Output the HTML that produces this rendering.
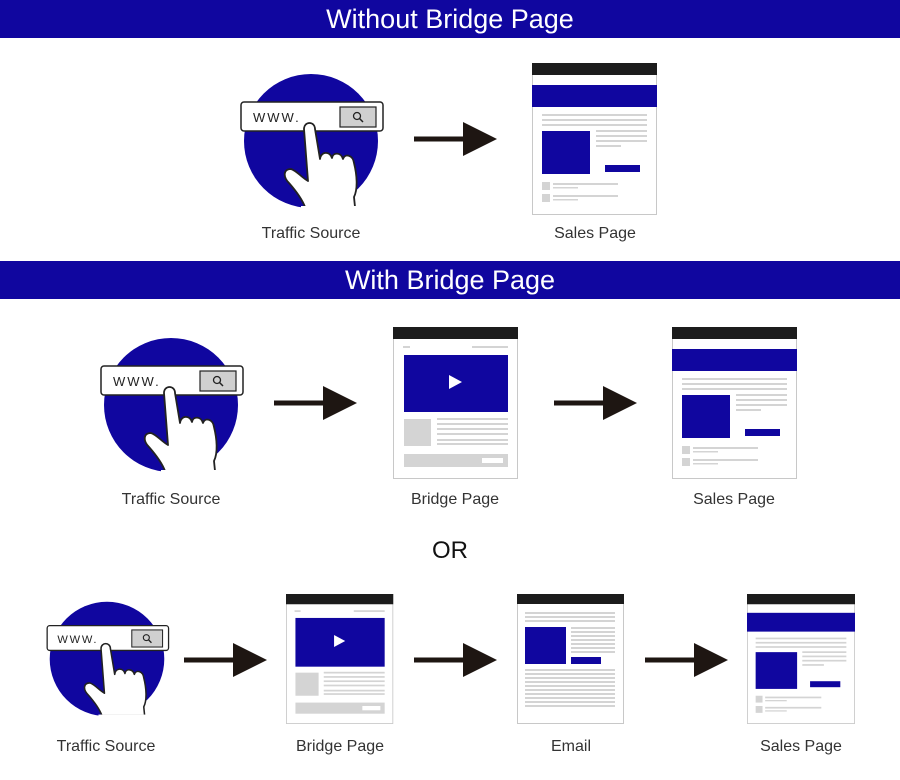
<!DOCTYPE html>
<html><head><meta charset="utf-8"><style>
html,body{margin:0;padding:0;background:#fff;}
svg{display:block;}
text{font-family:"Liberation Sans",sans-serif;}
</style></head><body>
<svg width="900" height="780" viewBox="0 0 900 780" xmlns="http://www.w3.org/2000/svg">
<defs>
<g id="sales">
<rect x="0.5" y="0.5" width="124" height="151" fill="#fff" stroke="#c8c8c8"/>
<rect x="0" y="0" width="125" height="12" fill="#1c1c1c"/>
<rect x="0" y="22" width="125" height="22" fill="#10069f"/>
<g fill="#d4d4d4">
<rect x="10" y="51" width="105" height="2"/><rect x="10" y="56" width="105" height="2"/><rect x="10" y="61" width="105" height="2"/>
<rect x="64" y="67" width="51" height="2"/><rect x="64" y="72" width="51" height="2"/><rect x="64" y="77" width="51" height="2"/><rect x="64" y="82" width="25" height="2"/>
<rect x="10" y="119" width="8" height="8"/><rect x="10" y="131" width="8" height="8"/>
<rect x="21" y="120" width="65" height="2"/><rect x="21" y="124" width="25" height="1.5"/>
<rect x="21" y="132" width="65" height="2"/><rect x="21" y="136" width="25" height="1.5"/>
</g>
<rect x="10" y="68" width="48" height="43" fill="#10069f"/>
<rect x="73" y="102" width="35" height="7" fill="#10069f"/>
</g>
<g id="bridge">
<rect x="0.5" y="0.5" width="124" height="151" fill="#fff" stroke="#c8c8c8"/>
<rect x="0" y="0" width="125" height="12" fill="#1c1c1c"/>
<g fill="#d4d4d4">
<rect x="10" y="19" width="7" height="2"/><rect x="79" y="19" width="36" height="2"/>
<rect x="11" y="92" width="27" height="27"/>
<rect x="44" y="91" width="71" height="2"/><rect x="44" y="96" width="71" height="2"/><rect x="44" y="101" width="71" height="2"/><rect x="44" y="106" width="71" height="2"/><rect x="44" y="112" width="71" height="2"/><rect x="44" y="116" width="71" height="2"/>
<rect x="11" y="127" width="104" height="13"/>
</g>
<rect x="89" y="131" width="21" height="5" fill="#fff"/>
<rect x="11" y="28" width="104" height="57" fill="#10069f"/>
<polygon points="56,48 69,55 56,62" fill="#fff"/>
</g>
<g id="email">
<rect x="0.5" y="0.5" width="106" height="129" fill="#fff" stroke="#c8c8c8"/>
<rect x="0" y="0" width="107" height="10" fill="#1c1c1c"/>
<g fill="#d4d4d4">
<rect x="8" y="18" width="90" height="2"/><rect x="8" y="22" width="90" height="2"/><rect x="8" y="26" width="90" height="2"/>
<rect x="54" y="33" width="44" height="2"/><rect x="54" y="37" width="44" height="2"/><rect x="54" y="41" width="44" height="2"/><rect x="54" y="45" width="44" height="2"/><rect x="54" y="49" width="44" height="2"/><rect x="54" y="53" width="44" height="2"/><rect x="54" y="57" width="44" height="2"/>
<rect x="8" y="75" width="90" height="2"/><rect x="8" y="79" width="90" height="2"/><rect x="8" y="83" width="90" height="2"/><rect x="8" y="87" width="90" height="2"/><rect x="8" y="91" width="90" height="2"/><rect x="8" y="95" width="90" height="2"/><rect x="8" y="99" width="90" height="2"/><rect x="8" y="103" width="90" height="2"/><rect x="8" y="107" width="90" height="2"/><rect x="8" y="111" width="90" height="2"/>
</g>
<rect x="8" y="33" width="41" height="37" fill="#10069f"/>
<rect x="54" y="63" width="30" height="7" fill="#10069f"/>
</g>
<g id="traffic">
<circle cx="0" cy="0" r="67" fill="#10069f"/>
<rect x="-70" y="-39" width="142" height="29" rx="3" fill="#fff" stroke="#222" stroke-width="1.5"/>
<text x="-58" y="-19" font-size="13" fill="#222" letter-spacing="2">WWW.</text>
<rect x="29" y="-34" width="36" height="20" fill="#d0d0d0" stroke="#222" stroke-width="1.2"/>
<circle cx="46" cy="-25" r="3.5" fill="none" stroke="#222" stroke-width="1.3"/>
<line x1="48.5" y1="-22.5" x2="52" y2="-19" stroke="#222" stroke-width="1.5"/>
<path d="M -7,-12 C -7,-20 4,-20 4,-12 L 9,18 C 10,10 19,10 21,17 C 22,11 30,11 32,18 C 34,12 42,14 43,22 C 46,34 47,48 43,56 L 44,66 L -6,66 C -9,58 -15,50 -22,42 C -28,36 -28,28 -20,28 C -14,30 -10,36 -3,40 Z" fill="#fff" stroke="#222" stroke-width="1.8" stroke-linejoin="round"/>
<rect x="-10" y="65" width="56" height="6" fill="#fff"/>
</g>
<g id="arrow">
<rect x="0" y="-2.5" width="50" height="5" fill="#1e1612"/>
<polygon points="49,-17 83,0 49,17" fill="#1e1612"/>
</g>
</defs>

<rect x="0" y="0" width="900" height="38" fill="#10069f"/>
<text x="450" y="28" text-anchor="middle" font-size="27" fill="#fff">Without Bridge Page</text>
<rect x="0" y="261" width="900" height="38" fill="#10069f"/>
<text x="450" y="289" text-anchor="middle" font-size="27" fill="#fff">With Bridge Page</text>

<use href="#traffic" transform="translate(311,141)"/>
<use href="#arrow" transform="translate(414,139)"/>
<use href="#sales" transform="translate(532,63)"/>
<text x="311" y="238" text-anchor="middle" font-size="16" fill="#333">Traffic Source</text>
<text x="595" y="238" text-anchor="middle" font-size="16" fill="#333">Sales Page</text>

<use href="#traffic" transform="translate(171,405)"/>
<use href="#arrow" transform="translate(274,403)"/>
<use href="#bridge" transform="translate(393,327)"/>
<use href="#arrow" transform="translate(554,403)"/>
<use href="#sales" transform="translate(672,327)"/>
<text x="171" y="504" text-anchor="middle" font-size="16" fill="#333">Traffic Source</text>
<text x="455" y="504" text-anchor="middle" font-size="16" fill="#333">Bridge Page</text>
<text x="734" y="504" text-anchor="middle" font-size="16" fill="#333">Sales Page</text>

<text x="450" y="558" text-anchor="middle" font-size="24" fill="#111">OR</text>

<use href="#traffic" transform="translate(107,659) scale(0.855)"/>
<use href="#arrow" transform="translate(184,660)"/>
<use href="#bridge" transform="translate(286,594) scale(0.858,0.855)"/>
<use href="#arrow" transform="translate(414,660)"/>
<use href="#email" transform="translate(517,594)"/>
<use href="#arrow" transform="translate(645,660)"/>
<use href="#sales" transform="translate(747,594) scale(0.864,0.855)"/>
<text x="106" y="751" text-anchor="middle" font-size="16" fill="#333">Traffic Source</text>
<text x="340" y="751" text-anchor="middle" font-size="16" fill="#333">Bridge Page</text>
<text x="571" y="751" text-anchor="middle" font-size="16" fill="#333">Email</text>
<text x="801" y="751" text-anchor="middle" font-size="16" fill="#333">Sales Page</text>
</svg>
</body></html>
